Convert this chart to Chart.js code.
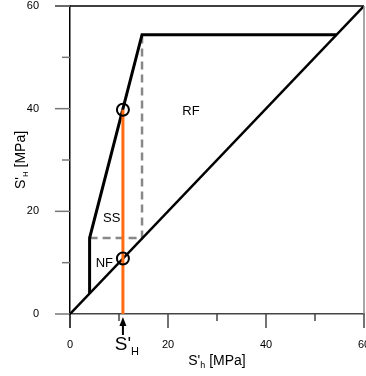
<!DOCTYPE html>
<html>
<head>
<meta charset="utf-8">
<script src="https://cdn.jsdelivr.net/npm/chart.js@4/dist/chart.umd.min.js"></script>
<style>
  html, body { margin: 0; padding: 0; background: #fff; }
</style>
</head>
<body>
<canvas id="chart" width="366" height="376"></canvas>
<script>
// Données (MPa)
const majorTicks = [0, 20, 40, 60];
const minorTicks = [10, 30, 50];

const diagX = [0, 60];
const diagY = [0, 60];
const envX = [4, 4, 14.7, 54.4];
const envY = [4, 14.8, 54.4, 54.4];
const dashX = [4, 14.7, 14.7];
const dashY = [14.8, 14.8, 54.4];
const shX = [10.8, 10.8];
const shY = [0, 39.8];
const circX = [10.8, 10.8];
const circY = [39.8, 10.8];

const regionNames = ['RF', 'SS', 'NF'];
const regionX = [24.7, 8.5, 7.0];
const regionY = [39.4, 18.7, 9.9];

const FONT = "'Liberation Sans', Arial, sans-serif";

const pts = (xs, ys) => xs.map((x, i) => ({ x: x, y: ys[i] }));

// dessine un texte avec indice (S'H, S'h)
function subText(ctx, x, y, parts) {
  let w = 0;
  parts.forEach(p => { ctx.font = p.size + 'px ' + FONT; w += ctx.measureText(p.t).width; });
  let cx = x - w / 2;
  parts.forEach(p => {
    ctx.font = p.size + 'px ' + FONT;
    ctx.fillText(p.t, cx, y + (p.dy || 0));
    cx += ctx.measureText(p.t).width;
  });
}

const decorPlugin = {
  id: 'decor',
  afterDraw(chart) {
    const ctx = chart.ctx;
    const xs = chart.scales.x, ys = chart.scales.y;
    const a = chart.chartArea;
    ctx.save();

    // cadre haut et droit
    ctx.lineWidth = 1.5;
    ctx.strokeStyle = '#000';
    ctx.beginPath(); ctx.moveTo(a.left - 15, a.top); ctx.lineTo(a.right, a.top); ctx.stroke();
    ctx.strokeStyle = '#888';
    ctx.beginPath(); ctx.moveTo(a.right, a.top); ctx.lineTo(a.right, a.bottom); ctx.stroke();

    // graduations
    ctx.lineWidth = 1.5;
    ctx.strokeStyle = '#777';
    majorTicks.forEach(v => {
      const py = ys.getPixelForValue(v);
      ctx.beginPath(); ctx.moveTo(a.left - 15, py); ctx.lineTo(a.left, py); ctx.stroke();
    });
    minorTicks.forEach(v => {
      const py = ys.getPixelForValue(v);
      ctx.beginPath(); ctx.moveTo(a.left - 8, py); ctx.lineTo(a.left, py); ctx.stroke();
    });
    majorTicks.forEach(v => {
      const px = xs.getPixelForValue(v);
      ctx.strokeStyle = v === 0 ? '#000' : '#444';
      ctx.beginPath(); ctx.moveTo(px, a.bottom); ctx.lineTo(px, a.bottom + 14); ctx.stroke();
    });
    ctx.strokeStyle = '#444';
    minorTicks.forEach(v => {
      const px = xs.getPixelForValue(v);
      ctx.beginPath(); ctx.moveTo(px, a.bottom); ctx.lineTo(px, a.bottom + 7); ctx.stroke();
    });

    // étiquettes des régions
    ctx.fillStyle = '#000';
    ctx.font = '13px ' + FONT;
    ctx.textAlign = 'center';
    ctx.textBaseline = 'middle';
    regionNames.forEach((n, i) => {
      ctx.fillText(n, xs.getPixelForValue(regionX[i]), ys.getPixelForValue(regionY[i]));
    });

    // flèche S'H
    const ax = xs.getPixelForValue(shX[0]);
    ctx.strokeStyle = '#000';
    ctx.lineWidth = 2;
    ctx.beginPath(); ctx.moveTo(ax, 335); ctx.lineTo(ax, 324); ctx.stroke();
    ctx.beginPath(); ctx.moveTo(ax, 317); ctx.lineTo(ax - 3.5, 326); ctx.lineTo(ax + 3.5, 326); ctx.closePath(); ctx.fill();

    ctx.textAlign = 'left';
    ctx.textBaseline = 'alphabetic';
    subText(ctx, ax + 4, 350, [{ t: "S'", size: 19 }, { t: 'H', size: 11, dy: 5 }]);

    // titres des axes
    subText(ctx, (a.left + a.right) / 2, 365, [
      { t: "S'", size: 14 }, { t: 'h', size: 9, dy: 3 }, { t: ' [MPa]', size: 14 }
    ]);
    ctx.save();
    ctx.translate(25, (a.top + a.bottom) / 2);
    ctx.rotate(-Math.PI / 2);
    subText(ctx, 0, 0, [
      { t: "S'", size: 14 }, { t: 'H', size: 8, dy: 3 }, { t: ' [MPa]', size: 14 }
    ]);
    ctx.restore();

    ctx.restore();
  }
};

new Chart(document.getElementById('chart'), {
  type: 'scatter',
  data: {
    datasets: [
      {
        data: pts(circX, circY),
        showLine: false,
        pointRadius: 6,
        pointBorderWidth: 2,
        pointBorderColor: '#000',
        pointBackgroundColor: 'rgba(0,0,0,0)'
      },
      {
        data: pts(shX, shY),
        showLine: true,
        borderColor: '#ff6a13',
        borderWidth: 3,
        pointRadius: 0
      },
      {
        data: pts(envX, envY),
        showLine: true,
        borderColor: '#000',
        borderWidth: 3,
        pointRadius: 0
      },
      {
        data: pts(diagX, diagY),
        showLine: true,
        borderColor: '#000',
        borderWidth: 2.5,
        pointRadius: 0
      },
      {
        data: pts(dashX, dashY),
        showLine: true,
        borderColor: '#888',
        borderWidth: 2.5,
        borderDash: [8, 5],
        pointRadius: 0
      }
    ]
  },
  options: {
    responsive: false,
    animation: false,
    events: [],
    layout: { autoPadding: false, padding: { top: 6, right: 2, left: 0, bottom: 0 } },
    plugins: { legend: { display: false }, tooltip: { enabled: false } },
    scales: {
      x: {
        min: 0, max: 60,
        border: { color: '#444', width: 1.5 },
        grid: { display: false },
        ticks: { stepSize: 20, color: '#000', padding: 16, font: { size: 11, family: FONT }, maxRotation: 0 },
        afterFit(s) { s.height = 62; s.paddingLeft = 0; s.paddingRight = 0; }
      },
      y: {
        min: 0, max: 60,
        border: { color: '#000', width: 1.5 },
        grid: { display: false },
        ticks: { stepSize: 20, color: '#000', padding: 23, font: { size: 11, family: FONT } },
        afterFit(s) { s.width = 70; s.paddingTop = 0; s.paddingBottom = 0; }
      }
    }
  },
  plugins: [decorPlugin]
});
</script>
</body>
</html>
